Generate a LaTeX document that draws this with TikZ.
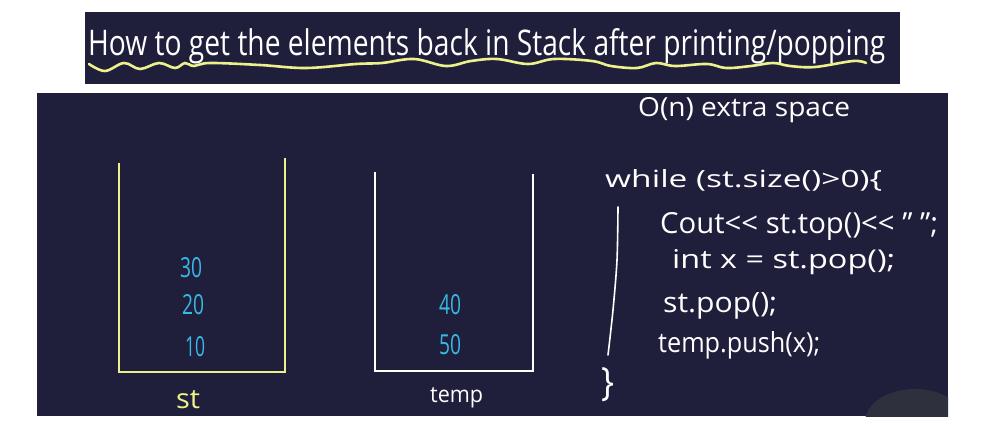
\documentclass[tikz,border=0pt]{standalone}
\usepackage{fontspec}
\setmainfont{Open Sans}
\usepackage{graphicx}
\definecolor{panel}{HTML}{1F1F3C}
\definecolor{chalkyellow}{HTML}{EEF08C}
\definecolor{chalkcyan}{HTML}{38B9E6}
\definecolor{rock}{HTML}{2E303D}
\newcommand{\hw}[3]{\resizebox{#1pt}{#2pt}{#3}}
\tikzset{
  panelbg/.style={fill=panel},
  hand/.style={text=white, inner sep=0pt, anchor=base west},
  num/.style={text=chalkcyan, inner sep=0pt, anchor=center},
  ystack/.style={draw=chalkyellow, line width=2.4pt, line join=miter},
  wstack/.style={draw=white, line width=2.4pt, line join=miter},
  wave/.style={draw=chalkyellow, line width=2.6pt, line cap=round},
  barline/.style={draw=white, line width=1.6pt, line cap=round}
}
\begin{document}
\begin{tikzpicture}[x=1pt,y=-1pt]
\useasboundingbox (0,0) rectangle (998,423);
\fill[white] (0,0) rectangle (998,423);
% panels
\fill[panelbg] (85,12) rectangle (900,84);
\fill[panelbg] (37,93) rectangle (948,416);
% rock in the corner
\begin{scope}
\clip (37,93) rectangle (948,416);
\fill[rock] (915,422) ellipse (50pt and 33pt);
\end{scope}
% title
\node[hand] (title) at (88,55) {\hw{797}{27}{How to get the elements back in Stack after printing/popping}};
\draw[wave] plot[smooth, tension=0.6] coordinates {(89,64) (105,71) (124,63) (140,69) (159,63) (175,68) (185,63) (194,66) (210,63) (260,65) (306,68) (356,64) (382,63) (414,59) (446,66) (471,61) (497,59) (528,64) (554,59) (592,61) (611,66) (637,68) (656,63) (675,66) (707,64) (726,68) (751,66) (773,63) (790,66) (815,67) (853,61) (866,63)};
% stacks
\draw[ystack] (119,163) -- (119,372) -- (285,372) -- (285,158);
\draw[wstack] (375,172) -- (375,371) -- (533,371) -- (533,174);
\node[num] (n30) at (191,268) {\resizebox{22pt}{20pt}{30}};
\node[num] (n20) at (193,305) {\resizebox{22pt}{20pt}{20}};
\node[num] (n10) at (195,347) {\resizebox{20pt}{20pt}{10}};
\node[num] (n40) at (450,305) {\resizebox{22pt}{20pt}{40}};
\node[num] (n50) at (450,345) {\resizebox{22pt}{20pt}{50}};
\node[hand, text=chalkyellow] (lst) at (176,408) {\hw{24}{18}{st}};
\node[hand] (ltemp) at (430,402) {\hw{53}{15}{temp}};
% code
\node[hand] (c0) at (638,116) {\hw{212}{19}{O(n) extra space}};
\node[hand] (c1) at (605,187) {\hw{277}{18}{while (st.size()>0)\{}};
\node[hand] (c2) at (660,233) {\hw{278}{21}{Cout<{}< st.top()<{}< " ";}};
\node[hand] (c3) at (672,268) {\hw{223}{19}{int x = st.pop();}};
\node[hand] (c4) at (663,312) {\hw{114}{20}{st.pop();}};
\node[hand] (c5) at (658,352) {\hw{162}{21}{temp.push(x);}};
\node[text=white, inner sep=0pt, anchor=center] (c6) at (608,385) {\resizebox*{13pt}{34pt}{\}}};
\draw[barline] plot[smooth] coordinates {(618,207) (617,260) (613,310) (608,355)};
\end{tikzpicture}
\end{document}
